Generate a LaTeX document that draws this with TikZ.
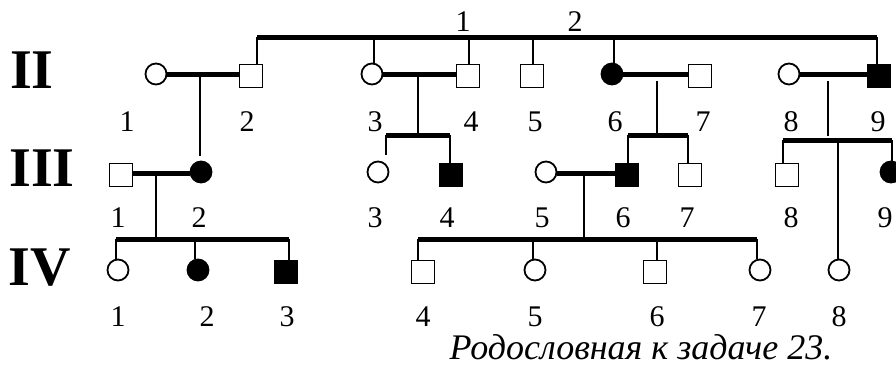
\documentclass[tikz,border=0pt]{standalone}
\usepackage{fontspec}
\setmainfont{Liberation Serif}[ItalicFont={Liberation Serif Italic},BoldFont={Liberation Serif Bold}]
\begin{document}
\begin{tikzpicture}[x=1pt,y=-1pt,
  ind/.style={draw, line width=1.8pt, inner sep=0pt},
  fem/.style={ind, circle, minimum size=21pt},
  mal/.style={ind, rectangle, minimum size=23pt},
  aff/.style={fill=black},
  marr/.style={line width=5pt},
  sib/.style={line width=5pt},
  desc/.style={line width=2.8pt},
  num/.style={inner sep=0pt, font=\fontsize{30}{30}\selectfont},
  gen/.style={inner sep=0pt, font=\bfseries\fontsize{56}{56}\selectfont},
  captxt/.style={inner sep=0pt, font=\itshape\fontsize{36}{36}\selectfont}]
\useasboundingbox (0,0) rectangle (896,373);

% generation labels
\node[gen] (gII) at (32,70) {II};
\node[gen] (gIII) at (42,168) {III};
\node[gen] (gIV) at (40,268) {IV};

% generation II
\node[fem] (II1) at (156,74) {};
\node[mal] (II2) at (251,76) {};
\node[fem] (II3) at (372,74) {};
\node[mal] (II4) at (468,76) {};
\node[mal] (II5) at (532,76) {};
\node[fem,aff] (II6) at (612,74) {};
\node[mal] (II7) at (700,76) {};
\node[fem] (II8) at (789,74) {};
\node[mal,aff] (II9) at (879,76) {};

% generation III
\node[mal] (III1) at (121,175) {};
\node[fem,aff] (III2) at (201,172) {};
\node[fem] (III3) at (378,172) {};
\node[mal,aff] (III4) at (451,175) {};
\node[fem] (III5) at (546,172) {};
\node[mal,aff] (III6) at (627,175) {};
\node[mal] (III7) at (690,175) {};
\node[mal] (III8) at (787,175) {};
\node[fem,aff] (III9) at (891,172) {};

% generation IV
\node[fem] (IV1) at (118,270) {};
\node[fem,aff] (IV2) at (198,270) {};
\node[mal,aff] (IV3) at (286,272) {};
\node[mal] (IV4) at (423,272) {};
\node[fem] (IV5) at (535,270) {};
\node[mal] (IV6) at (655,272) {};
\node[fem] (IV7) at (760,270) {};
\node[fem] (IV8) at (839,270) {};

% top sibship (generation I children)
\coordinate (t1) at (257,37);
\coordinate (t2) at (877,37);
\draw[sib] (t1) -- (t2);
\draw[desc] (t1) -- (t1 |- II2.north);
\draw[desc] (t2) -- (t2 |- II9.north);
\coordinate (t3) at (374,37);
\coordinate (t4) at (469,37);
\coordinate (t5) at (533,37);
\coordinate (t6) at (614,37);
\draw[desc] (t3) -- (t3 |- II3.north);
\draw[desc] (t4) -- (t4 |- II4.north);
\draw[desc] (t5) -- (t5 |- II5.north);
\draw[desc] (t6) -- (t6 |- II6.north);
\node[num] (I1) at (463,22) {1};
\node[num] (I2) at (575,22) {2};

% marriages generation II
\draw[marr] (II1.east) -- (II2.west |- II1.east);
\draw[marr] (II3.east) -- (II4.west |- II3.east);
\draw[marr] (II6.east) -- (II7.west |- II6.east);
\draw[marr] (II8.east) -- (II9.west |- II8.east);

% descent II1 x II2 -> III2
\coordinate (d1) at (200,74);
\coordinate (d1e) at (200,156);
\draw[desc] (d1) -- (d1e);

% descent II3 x II4 -> III3, III4
\coordinate (d2) at (418,74);
\coordinate (s2a) at (386,135);
\coordinate (s2b) at (450,135);
\draw[desc] (d2) -- (d2 |- s2a);
\draw[sib] (s2a) -- (s2b);
\draw[desc] (s2a) -- (386,155);
\draw[desc] (s2b) -- (s2b |- III4.north);

% descent II6 x II7 -> III6, III7
\coordinate (d3) at (657,81);
\coordinate (s3a) at (628,135);
\coordinate (s3b) at (688,135);
\draw[desc] (d3) -- (d3 |- s3a);
\draw[sib] (s3a) -- (s3b);
\draw[desc] (s3a) -- (s3a |- III6.north);
\draw[desc] (s3b) -- (s3b |- III7.north);

% descent II8 x II9 -> III8, III9, IV8
\coordinate (d4) at (828,81);
\coordinate (d4e) at (828,136);
\draw[desc] (d4) -- (d4e);
\coordinate (s4a) at (783,140);
\coordinate (s4b) at (892,140);
\draw[sib] (s4a) -- (s4b);
\draw[desc] (s4a) -- (s4a |- III8.north);
\draw[desc] (s4b) -- (892,161);
\coordinate (s4c) at (838,140);
\draw[desc] (s4c) -- (s4c |- IV8.north);

% marriages generation III
\draw[marr] (III1.east |- 0,173) -- (III2.west |- 0,173);
\draw[marr] (III5.east |- 0,173) -- (III6.west |- 0,173);

% descent III1 x III2 -> IV1..IV3
\coordinate (d5) at (156,173);
\coordinate (s5a) at (116,239);
\coordinate (s5b) at (289,239);
\draw[desc] (d5) -- (d5 |- s5a);
\draw[sib] (s5a) -- (s5b);
\draw[desc] (s5a) -- (s5a |- IV1.north);
\coordinate (s5c) at (195,239);
\draw[desc] (s5c) -- (s5c |- IV2.north);
\draw[desc] (s5b) -- (s5b |- IV3.north);

% descent III5 x III6 -> IV4..IV7
\coordinate (d6) at (584,173);
\coordinate (s6a) at (418,239);
\coordinate (s6b) at (757,239);
\draw[desc] (d6) -- (d6 |- s6a);
\draw[sib] (s6a) -- (s6b);
\draw[desc] (s6a) -- (s6a |- IV4.north);
\coordinate (s6c) at (533,239);
\draw[desc] (s6c) -- (s6c |- IV5.north);
\coordinate (s6d) at (657,239);
\draw[desc] (s6d) -- (s6d |- IV6.north);
\draw[desc] (s6b) -- (s6b |- IV7.north);

% numbers generation II
\node[num] (nII1) at (127,122) {1};
\node[num] (nII2) at (247,122) {2};
\node[num] (nII3) at (375,122) {3};
\node[num] (nII4) at (471,122) {4};
\node[num] (nII5) at (535,122) {5};
\node[num] (nII6) at (615,122) {6};
\node[num] (nII7) at (703,122) {7};
\node[num] (nII8) at (791,122) {8};
\node[num] (nII9) at (878,122) {9};
% numbers generation III
\node[num] (nIII1) at (118,218) {1};
\node[num] (nIII2) at (199,218) {2};
\node[num] (nIII3) at (375,218) {3};
\node[num] (nIII4) at (447,218) {4};
\node[num] (nIII5) at (542,218) {5};
\node[num] (nIII6) at (623,218) {6};
\node[num] (nIII7) at (687,218) {7};
\node[num] (nIII8) at (791,218) {8};
\node[num] (nIII9) at (885,218) {9};
% numbers generation IV
\node[num] (nIV1) at (118,317) {1};
\node[num] (nIV2) at (207,317) {2};
\node[num] (nIV3) at (287,317) {3};
\node[num] (nIV4) at (423,317) {4};
\node[num] (nIV5) at (535,317) {5};
\node[num] (nIV6) at (657,317) {6};
\node[num] (nIV7) at (759,317) {7};
\node[num] (nIV8) at (839,317) {8};

% caption
\node[captxt, anchor=base] (caption) at (641,359) {Родословная к задаче 23.};
\end{tikzpicture}
\end{document}
